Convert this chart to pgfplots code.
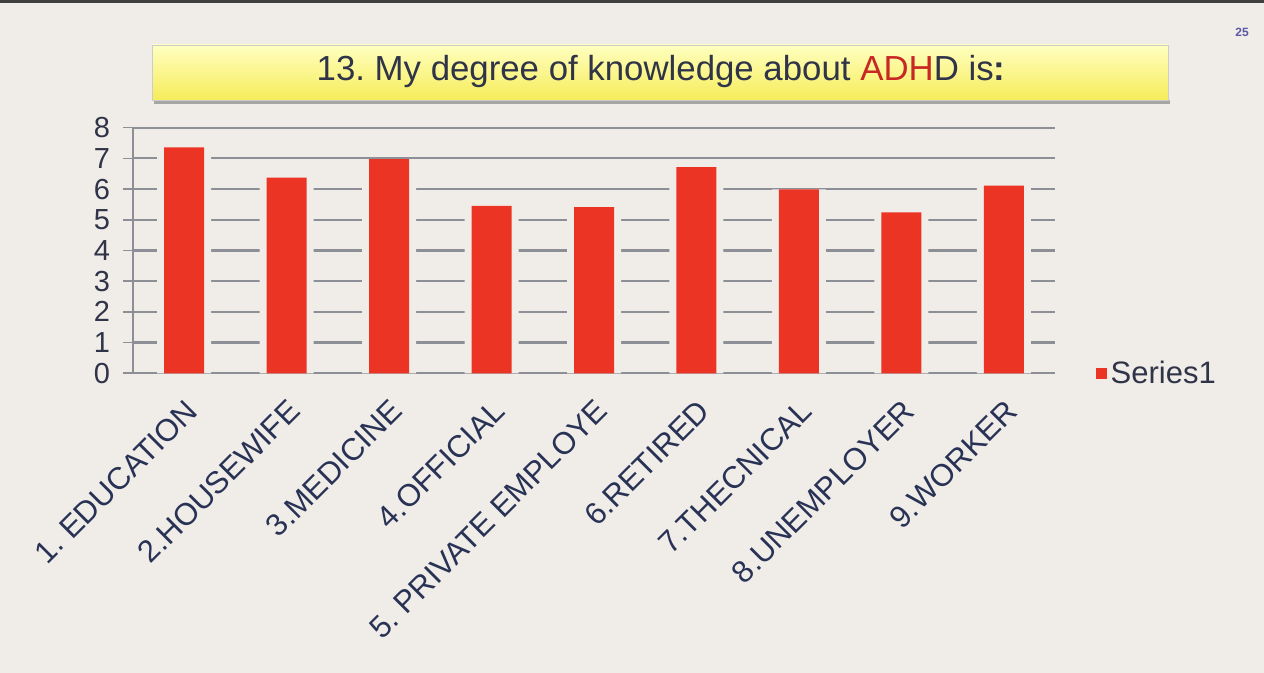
\documentclass[border=0pt]{standalone}
\usepackage{fontspec}
\setmainfont{Liberation Sans}
\usepackage{pgfplots}
\pgfplotsset{compat=1.18}
\definecolor{bg}{RGB}{240,236,232}
\definecolor{gridcol}{RGB}{140,143,150}
\definecolor{barred}{RGB}{236,52,36}
\definecolor{labcol}{RGB}{40,50,85}
\definecolor{titcol}{RGB}{48,52,72}
\definecolor{adhred}{RGB}{200,40,35}
\frenchspacing

\begin{document}
\begin{tikzpicture}
% 1 px of the reference = 0.5pt
\useasboundingbox (0,0) rectangle (632pt,336.5pt);
\fill[bg] (0,0) rectangle (632pt,336.5pt);
\fill[black!75] (0,335pt) rectangle (632pt,336.5pt);
\node[font=\fontsize{6}{7}\selectfont\bfseries, text=gray!70!blue] at (621pt,320.5pt) {25};

% title box
\fill[black!35] (77pt,284.5pt) rectangle (585pt,286.5pt);
\shade[top color=yellow!25, bottom color={rgb,255:red,246;green,236;blue,90}, draw=black!20]
  (76pt,286.5pt) rectangle (584pt,314pt);
\node[font=\fontsize{17.4}{20}\selectfont, text=titcol] at (330.5pt,300.5pt)
  {13. My degree of knowledge about \textcolor{adhred}{ADH}D is\textbf{:}};

\begin{axis}[
  at={(66.5pt,149.85pt)}, anchor=south west,
  scale only axis,
  width=461pt, height=122.85pt,
  xmin=0.5, xmax=9.5,
  ymin=0, ymax=8,
  axis x line=bottom, axis y line=left,
  axis line style={gridcol, line width=1pt, -},
  ytick={0,1,...,8},
  xtick={1,...,9},
  xticklabels={1. EDUCATION, 2.HOUSEWIFE, 3.MEDICINE, 4.OFFICIAL, 5. PRIVATE EMPLOYE, 6.RETIRED, 7.THECNICAL, 8.UNEMPLOYER, 9.WORKER},
  tick align=outside,
  major tick length=5pt,
  x tick style={draw=none},
  y tick style={gridcol, line width=0.8pt},
  extra x ticks={0.5,1.5,...,9.5},
  extra x tick labels={},
  extra x tick style={grid=none, tick style={draw=gridcol, line width=0.6pt}, major tick length=5pt},
  ymajorgrids,
  grid style={gridcol, line width=1.1pt},
  /pgf/number format/assume math mode=true,
  yticklabel style={font=\fontsize{14.5}{16}\selectfont, text=titcol, xshift=-3pt},
  xticklabel style={font=\fontsize{15.5}{17}\selectfont, text=labcol, rotate=45, anchor=north east, inner sep=1pt, xshift=-4pt, yshift=-4pt},
  legend style={at={(1.037,0)}, anchor=west, draw=none, fill=none,
    font=\fontsize{15.5}{17}\selectfont, text=titcol},
  legend image code/.code={\fill[barred] (0pt,-2.8pt) rectangle (5.6pt,2.8pt);},
]
% light halo round each bar, as in the original
\addplot[ybar, bar width=27pt, bar shift=0pt, fill=bg, draw=none, forget plot]
  coordinates {(1,7.36) (2,6.37) (3,6.97) (4,5.45) (5,5.41) (6,6.71) (7,5.99) (8,5.24) (9,6.11)};
\addplot[ybar, bar width=20pt, bar shift=0pt, fill=barred, draw=none]
  coordinates {(1,7.36) (2,6.37) (3,6.97) (4,5.45) (5,5.41) (6,6.71) (7,5.99) (8,5.24) (9,6.11)};
\legend{Series1}
\end{axis}
\end{tikzpicture}
\end{document}
